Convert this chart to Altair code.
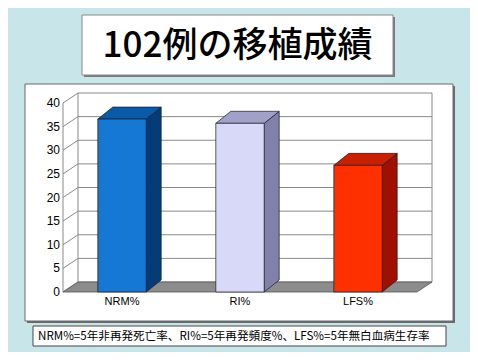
import altair as alt
import pandas as pd

# ---- data ----
categories = ["NRM%", "RI%", "LFS%"]
values = [36.6, 35.7, 26.8]
front_colors = ["#1478d4", "#d8d8f8", "#ff3000"]
top_colors = ["#0a5aa8", "#a0a0c8", "#c82000"]
side_colors = ["#043c78", "#8080a8", "#a01000"]
y_ticks = [0, 5, 10, 15, 20, 25, 30, 35, 40]
title_text = "102例の移植成績"
note_text = "NRM%=5年非再発死亡率、RI%=5年再発頻度%、LFS%=5年無白血病生存率"

# ---- geometry (plot area in px, 3D depth) ----
W, H = 369, 199
PXX = 118.0          # px per category
PXY = 4.725          # px per unit
D = 15 / PXX         # wall depth in x units
DY = 10 / PXY        # wall depth in y units
BX = 15 / PXX        # bar depth x
BY = 12 / PXY        # bar depth y
HALF = 0.205
NC = len(categories)
XMAX = NC + D
YMAX = H / PXY

xs = alt.Scale(domain=[0, XMAX], nice=False, zero=False)
ys = alt.Scale(domain=[0, YMAX], nice=False, zero=False)

# bar tables
bars = pd.DataFrame({
    "cat": categories,
    "c": [i + 0.5 for i in range(NC)],
    "l": [i + 0.5 - HALF for i in range(NC)],
    "r": [i + 0.5 + HALF for i in range(NC)],
    "v": values,
    "b": [0] * NC,
    "fill": front_colors,
})
side_rows, top_rows = [], []
for i, (cat, v) in enumerate(zip(categories, values)):
    l, r = i + 0.5 - HALF, i + 0.5 + HALF
    side_rows += [dict(cat=cat, x=r, y=0, y2=v, fill=side_colors[i]),
                  dict(cat=cat, x=r + BX, y=BY, y2=v + BY, fill=side_colors[i])]
    top_rows += [dict(cat=cat, y=v, x=l, x2=r, fill=top_colors[i]),
                 dict(cat=cat, y=v + BY, x=l + BX, x2=r + BX, fill=top_colors[i])]
side = pd.DataFrame(side_rows)
top = pd.DataFrame(top_rows)

ticks = pd.DataFrame({"v": y_ticks})
ticks["gx0"] = D
ticks["gx1"] = NC + D
ticks["gy"] = ticks["v"] + DY
ticks["dx0"] = 0.0

edges = pd.DataFrame([
    dict(x=0.0, y=y_ticks[0], y2=y_ticks[-1]),
    dict(x=D, y=y_ticks[0] + DY, y2=y_ticks[-1] + DY),
    dict(x=NC + D, y=y_ticks[0] + DY, y2=y_ticks[-1] + DY),
])
floor = pd.DataFrame([
    dict(y=0.0, x=0.0, x2=float(NC)),
    dict(y=DY, x=D, x2=NC + D),
])

one = pd.DataFrame({"a": [0]})
GRID = "#8a8a8a"

# ---- decorations (layout, pixel positions relative to plot area) ----
def box(x0, y0, x1, y1, fill, stroke=None, sw=1):
    kw = dict(fill=fill)
    if stroke:
        kw.update(stroke=stroke, strokeWidth=sw)
    else:
        kw.update(strokeWidth=0)
    return alt.Chart(one).mark_rect(**kw).encode(
        x=alt.value(x0), x2=alt.value(x1), y=alt.value(y0), y2=alt.value(y1))

title_shadow = box(21, -76, 332, -16, "#7a7a7a")
title_box = box(19, -78, 330, -18, "#ffffff", "#8a8a8a")
title = alt.Chart(one).mark_text(font="Noto Sans CJK JP", fontSize=35, align="center",
                                 baseline="middle", color="#000000", fontWeight=500).encode(
    x=alt.value(174.5), y=alt.value(-47), text=alt.value(title_text))

panel_shadow = box(-36, -7, 392, 230, "#6a6a6a")
panel = box(-38, -9, 390, 228, "#ffffff", "#6a6a6a")
note_box = box(-30, 233, 383, 253, "#ffffff", "#444444")
note = alt.Chart(one).mark_text(font="Noto Sans CJK JP", fontSize=11.6, align="left",
                                baseline="middle", color="#000000").encode(
    x=alt.value(-25), y=alt.value(243.5), text=alt.value(note_text))

# ---- 3D chart ----
grid = alt.Chart(ticks).mark_rule(color=GRID, strokeWidth=1).encode(
    x=alt.X("gx0:Q", scale=xs, axis=None), x2="gx1:Q",
    y=alt.Y("gy:Q", scale=ys, axis=None))
diag = alt.Chart(ticks).mark_rule(color=GRID, strokeWidth=1).encode(
    x=alt.X("dx0:Q", scale=xs, axis=None), x2="gx0:Q",
    y=alt.Y("v:Q", scale=ys, axis=None), y2="gy:Q")
edge = alt.Chart(edges).mark_rule(color=GRID, strokeWidth=1).encode(
    x=alt.X("x:Q", scale=xs, axis=None),
    y=alt.Y("y:Q", scale=ys, axis=None), y2="y2:Q")
floor_l = alt.Chart(floor).mark_area(orient="horizontal", color="#8c8c8c",
                                     stroke="#555555", strokeWidth=0.8).encode(
    y=alt.Y("y:Q", scale=ys, axis=None),
    x=alt.X("x:Q", scale=xs, axis=None), x2="x2:Q")

front = alt.Chart(bars).mark_rect(stroke="#1a1a2a", strokeWidth=0.7).encode(
    x=alt.X("l:Q", scale=xs, axis=None), x2="r:Q",
    y=alt.Y("v:Q", scale=ys, axis=None), y2="b:Q",
    fill=alt.Fill("fill:N", scale=None))
side_l = alt.Chart(side).mark_area(stroke="#1a1a2a", strokeWidth=0.7).encode(
    x=alt.X("x:Q", scale=xs, axis=None),
    y=alt.Y("y:Q", scale=ys, axis=None), y2="y2:Q",
    fill=alt.Fill("fill:N", scale=None), detail="cat:N")
top_l = alt.Chart(top).mark_area(orient="horizontal", stroke="#1a1a2a", strokeWidth=0.7).encode(
    y=alt.Y("y:Q", scale=ys, axis=None),
    x=alt.X("x:Q", scale=xs, axis=None), x2="x2:Q",
    fill=alt.Fill("fill:N", scale=None), detail="cat:N")

ylabels = alt.Chart(ticks).mark_text(font="Liberation Sans", fontSize=12, align="right",
                                     baseline="middle", color="#000000").encode(
    x=alt.value(-3), y=alt.Y("v:Q", scale=ys, axis=None), text="v:Q")
xlabels = alt.Chart(bars).mark_text(font="Liberation Sans", fontSize=11, align="center",
                                    baseline="middle", color="#000000").encode(
    x=alt.X("c:Q", scale=xs, axis=None), y=alt.value(209), text="cat:N")

chart = alt.layer(
    title_shadow, title_box, title,
    panel_shadow, panel,
    note_box, note,
    grid, diag, edge, floor_l,
    side_l, top_l, front,
    ylabels, xlabels,
).properties(
    width=W, height=H,
    padding={"left": 55, "top": 85, "right": 38, "bottom": 60},
    autosize=alt.AutoSizeParams(type="none"),
).configure(background="#c8e6ea").configure_view(stroke=None)

chart.save("out.html", embed_options={"renderer": "svg", "actions": False})
